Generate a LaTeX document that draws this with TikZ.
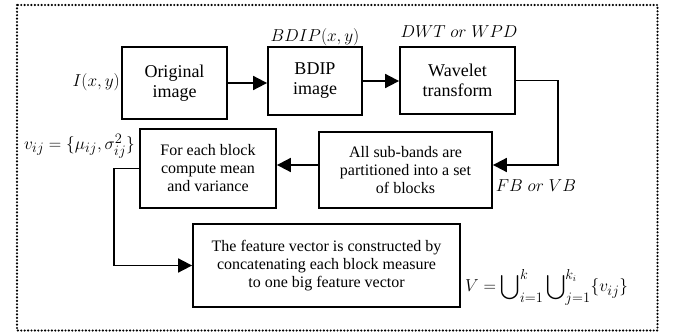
\documentclass[tikz,border=0pt]{standalone}
\usepackage{amsmath}
\usepackage{fontspec}
\setmainfont{Liberation Serif}
\usetikzlibrary{arrows.meta}
\tikzset{
  blk/.style={draw, line width=1.8pt, inner sep=0pt, align=center},
  bigtext/.style={font=\rmfamily\fontsize{18}{20}\selectfont},
  smalltext/.style={font=\rmfamily\fontsize{16}{18}\selectfont},
  mathlbl/.style={inner sep=0pt, font=\fontsize{19}{21}\selectfont},
  arr/.style={line width=1.8pt, -{Triangle[length=14pt,width=14pt]}},
  frame/.style={line width=2.4pt, line cap=round, dash pattern=on 0pt off 3.4pt}
}
\begin{document}
\begin{tikzpicture}[x=1pt, y=-1pt]
\useasboundingbox (0,0) rectangle (675,332);
% outer dotted frame
\draw[frame] (17,5) rectangle (657.5,330.5);

% processing blocks
\node[blk, bigtext, minimum width=105pt, minimum height=72pt] (orig) at (174.5,83) {Original\\image};
\node[blk, bigtext, minimum width=94pt, minimum height=68pt] (bdip) at (315,81) {BDIP\\image};
\node[blk, bigtext, minimum width=115pt, minimum height=67pt] (wav) at (457.5,80.5) {Wavelet\\transform};
\node[blk, smalltext, minimum width=173pt, minimum height=76pt] (part) at (405.5,170) {All sub-bands are\\partitioned into a set\\of blocks};
\node[blk, smalltext, minimum width=136pt, minimum height=79pt] (each) at (208,168.5) {For each block\\compute mean\\and variance};
\node[blk, smalltext, minimum width=267pt, minimum height=83pt] (feat) at (326.5,265.5) {The feature vector is constructed by\\concatenating each block measure\\to one big feature vector};

% connectors
\draw[arr] (orig.east) -- (orig.east -| bdip.west);
\draw[arr] (bdip.east) -- (bdip.east -| wav.west);
\draw[arr] (wav.east) -- ++(42,0) |- ([yshift=5pt]part.east);
\draw[arr] ([yshift=5pt]part.west) -- ([yshift=5pt]part.west -| each.east);
\draw[arr] (each.west) -- ++(-25,0) |- (feat.west);

% annotations
\node[mathlbl, anchor=east] (lblI) at (120,82) {$I(x,y)$};
\node[mathlbl] (lblB) at (315,37) {$BDIP(x,y)$};
\node[mathlbl] (lblW) at (459,32) {$DWT\ or\ WPD$};
\node[mathlbl, anchor=east] (lblv) at (135,146) {$v_{ij}=\{\mu_{ij},\sigma^2_{ij}\}$};
\node[mathlbl] (lblF) at (536,186) {$FB\ or\ VB$};
\node[mathlbl, anchor=west] (lblV) at (465,287) {$V=\displaystyle\bigcup\nolimits_{i=1}^{k}\bigcup\nolimits_{j=1}^{k_i}\{v_{ij}\}$};
\end{tikzpicture}
\end{document}
